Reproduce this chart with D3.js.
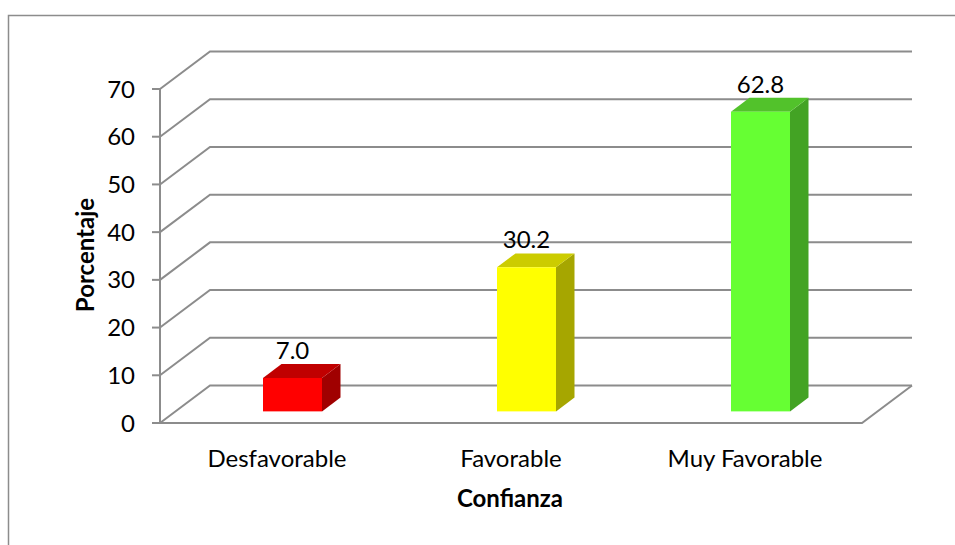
<!DOCTYPE html>
<html>
<head>
<meta charset="utf-8">
<script src="https://cdn.jsdelivr.net/npm/d3@7/dist/d3.min.js"></script>
<style>
  html, body { margin: 0; padding: 0; background: #fff; }
  svg { display: block; }
  text { font-family: Lato, "Open Sans", sans-serif; fill: #000; }
</style>
</head>
<body>
<svg id="chart" width="955" height="545"></svg>
<script>
// Chart data
const categories = ["Desfavorable", "Favorable", "Muy Favorable"];
const values = [7.0, 30.2, 62.8];
const yTicks = [0, 10, 20, 30, 40, 50, 60, 70];
const frontColors = ["#ff0000", "#ffff00", "#66ff33"];
const topColors = ["#c00000", "#cccc00", "#52c22b"];
const sideColors = ["#a00000", "#a6a600", "#43a324"];
const xTitle = "Confianza";
const yTitle = "Porcentaje";

const svg = d3.select("#chart");
const fs = 24;

// Chart outer frame
svg.append("path")
  .attr("d", "M8.5,545 L8.5,15.5 L955,15.5")
  .attr("fill", "none")
  .attr("stroke", "#8c8c8c")
  .attr("stroke-width", 1.5);

// Plot geometry (front plane + depth offset for the 3D box)
const x0 = 160, x1 = 862;
const depthX = 50, depthY = -37.5;

const y = d3.scaleLinear().domain([0, 70]).range([423, 89]);
const x = d3.scaleBand().domain(categories).range([x0, x1]);

const grid = svg.append("g")
  .attr("fill", "none")
  .attr("stroke", "#8c8c8c")
  .attr("stroke-width", 2);

// Back wall gridlines and side wall diagonals
yTicks.forEach(t => {
  const yy = y(t);
  grid.append("path")
    .attr("d", `M${x0},${yy} L${x0 + depthX},${yy + depthY} L${x1 + depthX},${yy + depthY}`);
});

// Floor
grid.append("path")
  .attr("d", `M${x0},${y(0)} L${x1},${y(0)} L${x1 + depthX},${y(0) + depthY}`);

// Left axis with ticks
grid.append("line")
  .attr("x1", x0).attr("x2", x0)
  .attr("y1", y(0)).attr("y2", y(70));
yTicks.forEach(t => {
  grid.append("line")
    .attr("x1", x0 - 8).attr("x2", x0)
    .attr("y1", y(t)).attr("y2", y(t));
});

svg.append("g")
  .selectAll("text")
  .data(yTicks)
  .join("text")
  .attr("x", 135)
  .attr("y", d => y(d))
  .attr("dy", "0.36em")
  .attr("text-anchor", "end")
  .attr("font-size", fs)
  .text(d => d);

// 3D bars: placed in the middle of the depth
const barW = 59;
const dFront = 0.31, dSize = 0.37;
const offX = depthX * dFront, offY = depthY * dFront;
const sX = depthX * dSize, sY = depthY * dSize;

const bars = svg.append("g");
categories.forEach((c, i) => {
  const cx = x(c) + x.bandwidth() / 2 + offX;
  const left = cx - barW / 2, right = cx + barW / 2;
  const bottom = y(0) + offY;
  const top = y(values[i]) + offY;
  // side
  bars.append("path")
    .attr("d", `M${right},${bottom} L${right + sX},${bottom + sY} L${right + sX},${top + sY} L${right},${top} Z`)
    .attr("fill", sideColors[i]);
  // top
  bars.append("path")
    .attr("d", `M${left},${top} L${right},${top} L${right + sX},${top + sY} L${left + sX},${top + sY} Z`)
    .attr("fill", topColors[i]);
  // front
  bars.append("rect")
    .attr("x", left).attr("y", top)
    .attr("width", barW).attr("height", bottom - top)
    .attr("fill", frontColors[i]);
  // value label
  bars.append("text")
    .attr("x", cx)
    .attr("y", top + sY - 5)
    .attr("text-anchor", "middle")
    .attr("font-size", fs)
    .text(values[i].toFixed(1));
});

// Category labels
svg.append("g")
  .selectAll("text")
  .data(categories)
  .join("text")
  .attr("x", d => x(d) + x.bandwidth() / 2)
  .attr("y", 467)
  .attr("text-anchor", "middle")
  .attr("font-size", fs)
  .text(d => d);

// Axis titles
svg.append("text")
  .attr("x", 510).attr("y", 507)
  .attr("text-anchor", "middle")
  .attr("font-size", fs)
  .attr("font-weight", "bold")
  .text(xTitle);

svg.append("text")
  .attr("transform", "translate(94,255) rotate(-90)")
  .attr("text-anchor", "middle")
  .attr("font-size", fs)
  .attr("font-weight", "bold")
  .text(yTitle);
</script>
</body>
</html>
